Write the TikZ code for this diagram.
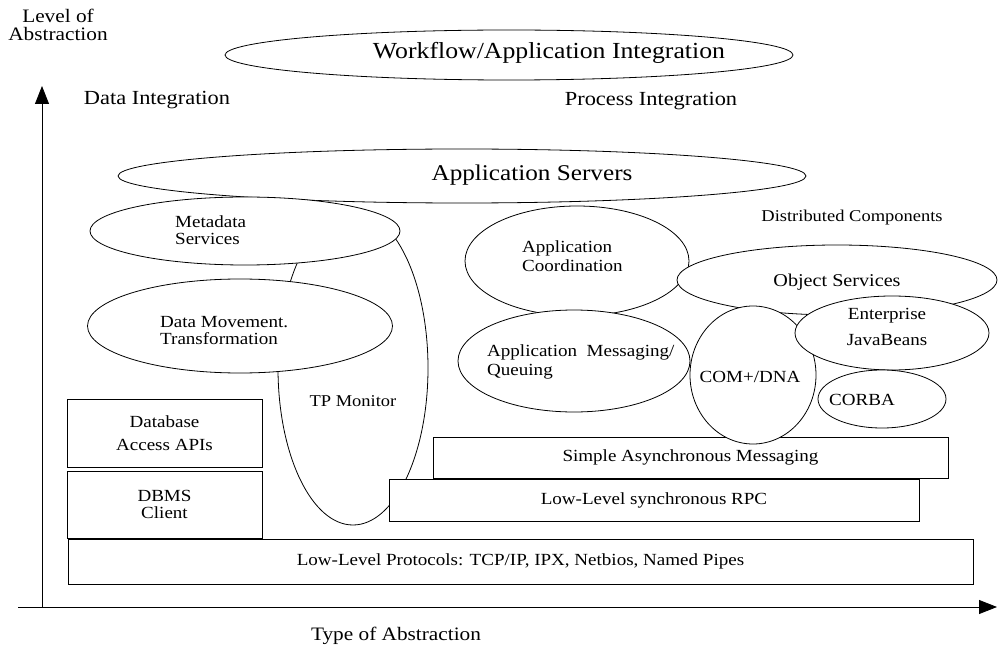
\documentclass[tikz,border=0pt]{standalone}
\usepackage{fontspec}
\setmainfont{Liberation Serif}[FakeStretch=1.12]
\usetikzlibrary{shapes.geometric,arrows.meta}
\newcommand{\myfs}[2]{\fontsize{#1}{#2}\selectfont}
\begin{document}
\begin{tikzpicture}[x=1pt,y=-1pt,
  ell/.style={draw,ellipse,fill=white,inner sep=0pt,line width=0.8pt},
  box/.style={draw,rectangle,fill=white,inner sep=0pt,line width=0.8pt,align=center},
  lbl/.style={inner sep=0pt,align=center},
  lbll/.style={inner sep=0pt,align=left,anchor=west},
  axis/.style={line width=0.8pt,-{Triangle[length=18pt,width=14pt]}}]
\useasboundingbox (0,0) rectangle (999,647);
% axes
\coordinate (origin) at (42,607);
\coordinate (ytip) at (42,86);
\coordinate (xstart) at (18,607);
\coordinate (xtip) at (997,607);
\draw[axis] (origin) -- (ytip);
\draw[axis] (xstart) -- (xtip);
\node[lbl,font=\myfs{19}{18}] (yl) at (58,25) {Level of\\Abstraction};
\node[lbl,font=\myfs{19}{19}] (xl) at (396,636) {Type of Abstraction};
\node[lbl,font=\myfs{20}{20}] (di) at (157,100) {Data Integration};
\node[lbl,font=\myfs{20}{20}] (pi) at (651,101) {Process Integration};
% top ellipses
\node[ell,minimum width=568pt,minimum height=50pt] (wf) at (509,55) {};
\node[lbl,font=\myfs{23}{23}] (wft) at (549,53) {Workflow/Application Integration};
% TP monitor
\node[ell,minimum width=150pt,minimum height=314pt] (tp) at (353,368) {};
\node[lbl,font=\myfs{16.5}{17}] (tpt) at (353,401) {TP Monitor};
% application servers
\node[ell,fill=none,minimum width=688pt,minimum height=54pt] (as) at (462,176) {};
\node[lbl,font=\myfs{22.5}{23}] (ast) at (532,175) {Application Servers};
% left ellipses
\node[ell,minimum width=310pt,minimum height=68pt] (md) at (245,231) {};
\node[lbll,font=\myfs{17}{17}] (mdt) at (175,230) {Metadata\\Services};
\node[ell,minimum width=305pt,minimum height=94pt] (dm) at (240,326) {};
\node[lbll,font=\myfs{17}{17}] (dmt) at (160,331) {Data Movement.\\Transformation};
% left boxes
\node[box,minimum width=195pt,minimum height=68pt,font=\myfs{17}{23}] (dba) at (164.5,433) {Database\\Access APIs};
\node[box,minimum width=195pt,minimum height=67pt,font=\myfs{17}{17}] (dbms) at (164.5,504.5) {DBMS\\Client};
% bottom boxes
\node[box,minimum width=515pt,minimum height=41pt,font=\myfs{17}{17}] (sam) at (690.5,457.5) {Simple Asynchronous Messaging};
\node[box,minimum width=530pt,minimum height=42pt,font=\myfs{17}{17}] (rpc) at (654,500) {Low-Level synchronous RPC};
\node[box,minimum width=905pt,minimum height=45pt,font=\myfs{17}{17}] (llp) at (520.5,561.5) {Low-Level Protocols: TCP/IP, IPX, Netbios, Named Pipes};
% right side
\node[lbl,font=\myfs{16.5}{17}] (dc) at (852,218) {Distributed Components};
\node[ell,minimum width=224pt,minimum height=110pt] (ac) at (577,261) {};
\node[lbll,font=\myfs{17}{19}] (act) at (522,256) {Application\\Coordination};
\node[ell,minimum width=232pt,minimum height=102pt] (am) at (574,361) {};
\node[lbll,font=\myfs{17}{19}] (amt) at (487,362) {Application~~Messaging/\\Queuing};
\node[ell,minimum width=320pt,minimum height=70pt] (os) at (837,280) {};
\node[lbl,font=\myfs{18}{18}] (ost) at (837,282) {Object Services};
\node[ell,minimum width=126pt,minimum height=138pt] (com) at (753,375) {};
\node[lbl,font=\myfs{17}{17}] (comt) at (750,377) {COM+/DNA};
\node[ell,minimum width=194pt,minimum height=74pt] (ejb) at (892,333) {};
\node[lbl,font=\myfs{17}{26}] (ejbt) at (887,327) {Enterprise\\JavaBeans};
\node[ell,minimum width=128pt,minimum height=58pt] (corba) at (882,399) {};
\node[lbl,font=\myfs{17}{17}] (corbat) at (862,400) {CORBA};
\end{tikzpicture}
\end{document}
